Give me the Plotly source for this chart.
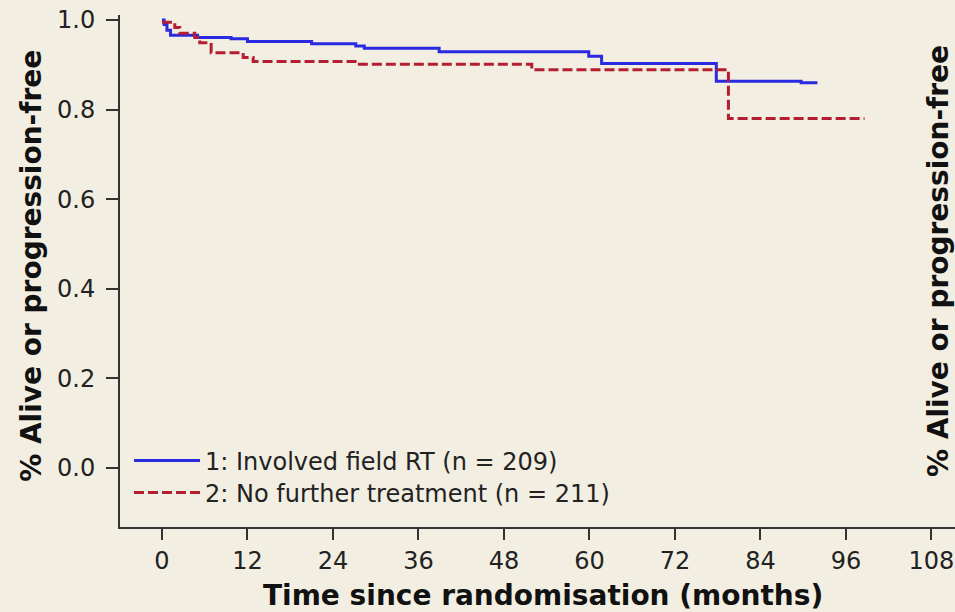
import plotly.graph_objects as go

# Kaplan-Meier step data
rt_months = [0, 0.3, 0.7, 1.2, 5.0, 9.7, 12.0, 21.0, 27.2, 28.4, 38.9, 59.9, 61.7, 77.8, 89.7, 92.0]
rt_surv = [1.0, 0.99, 0.977, 0.966, 0.961, 0.958, 0.952, 0.947, 0.942, 0.937, 0.929, 0.919, 0.903, 0.863, 0.860, 0.860]

nft_months = [0, 1.8, 2.5, 4.6, 5.3, 6.9, 11.4, 12.8, 27.7, 51.9, 79.5, 98.6]
nft_surv = [0.995, 0.983, 0.970, 0.961, 0.949, 0.927, 0.916, 0.907, 0.901, 0.889, 0.780, 0.780]

series_names = ["1: Involved field RT (n = 209)", "2: No further treatment (n = 211)"]
x_ticks = [0, 12, 24, 36, 48, 60, 72, 84, 96, 108]
y_ticks = [0.0, 0.2, 0.4, 0.6, 0.8, 1.0]
y_title = "% Alive or progression-free"
x_title = "Time since randomisation (months)"

BG = "#F2EEE1"
AX = "#333333"

fig = go.Figure()
fig.add_trace(go.Scatter(x=rt_months, y=rt_surv, mode="lines", line_shape="hv",
                         line=dict(color="#2A2AE0", width=3), name=series_names[0],
                         legend="legend"))
fig.add_trace(go.Scatter(x=nft_months, y=nft_surv, mode="lines", line_shape="hv",
                         line=dict(color="#B51E30", width=3, dash="10px,4px"), name=series_names[1],
                         legend="legend2"))

leg_common = dict(xanchor="left", yanchor="middle", bgcolor="rgba(0,0,0,0)",
                  font=dict(size=24, color="#222222"), itemwidth=66)

fig.update_layout(
    width=955, height=612,
    margin=dict(l=120, r=0, t=15, b=85),
    paper_bgcolor=BG, plot_bgcolor=BG,
    font=dict(family="DejaVu Sans, Verdana, sans-serif", color="#222222"),
    showlegend=True,
    legend=dict(x=0.0108, y=0.1289, **leg_common),
    legend2=dict(x=0.0108, y=0.0664, **leg_common),
    xaxis=dict(range=[-5.89, 111.3], tickvals=x_ticks, ticktext=[str(v) for v in x_ticks],
               showgrid=False, zeroline=False, showline=True, linecolor=AX, linewidth=2,
               ticks="outside", ticklen=11, tickwidth=2, tickcolor=AX,
               tickfont=dict(size=24)),
    yaxis=dict(range=[-0.1317, 1.011], tickvals=y_ticks, ticktext=[f"{v:.1f}" for v in y_ticks],
               showgrid=False, zeroline=False, showline=True, linecolor=AX, linewidth=2,
               ticks="outside", ticklen=12, tickwidth=2, tickcolor=AX,
               ticklabelstandoff=6, tickfont=dict(size=24)),
    annotations=[
        dict(text=f"<b>{x_title}</b>", xref="paper", yref="paper", x=0.507, y=-0.133,
             xanchor="center", yanchor="middle", showarrow=False, font=dict(size=28, color="#111111")),
        dict(text=f"<b>{y_title}</b>", xref="paper", yref="paper", x=-0.1054, y=0.51,
             xanchor="center", yanchor="middle", textangle=-90, showarrow=False,
             font=dict(size=28, color="#111111")),
        dict(text=f"<b>{y_title}</b>", xref="paper", yref="paper", x=0.98, y=0.52,
             xanchor="center", yanchor="middle", textangle=-90, showarrow=False,
             font=dict(size=28, color="#111111")),
    ],
)

fig.write_html("out.html", config={"displayModeBar": False},
               post_script="document.body.style.margin='0';document.body.style.overflow='hidden';")
